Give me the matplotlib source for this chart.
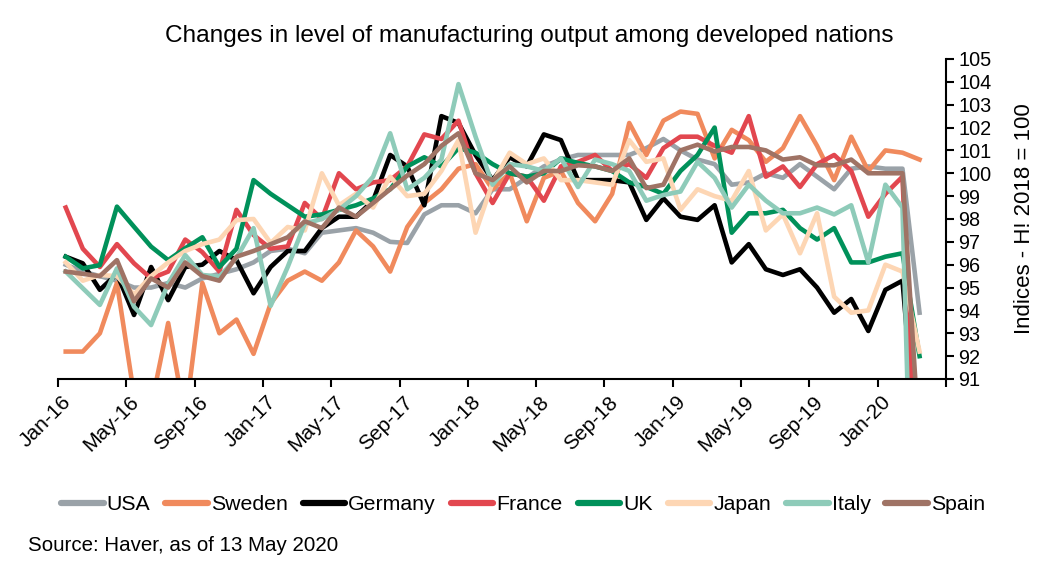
import numpy as np
import matplotlib
matplotlib.use("Agg")
import matplotlib.pyplot as plt
from matplotlib.transforms import ScaledTranslation

# monthly index values, Jan-16 .. Mar-20 (H1 2018 = 100)
usa = [96.0, 95.7, 95.5, 95.3, 95.0, 95.0, 95.2, 95.0, 95.4, 95.6,
       95.8, 96.1, 96.6, 96.7, 96.5, 97.4, 97.5, 97.6, 97.4, 97.0,
       96.95, 98.2, 98.6, 98.6, 98.25, 99.3, 99.3, 99.8, 100.3, 100.6,
       100.8, 100.8, 100.8, 100.8, 101.1, 101.5, 101.0, 100.6, 100.4, 99.5,
       99.6, 100.0, 99.8, 100.4, 99.85, 99.3, 100.2, 100.3, 100.2, 100.2,
       93.9]
sweden = [92.2, 92.2, 93.0, 95.2, 90.3, 89.8, 93.45, 89.3, 95.2, 93.0,
          93.6, 92.1, 94.3, 95.3, 95.7, 95.3, 96.1, 97.5, 96.8, 95.7,
          97.65, 98.7, 99.3, 100.2, 100.4, 99.3, 100.0, 97.9, 99.8, 100.1,
          98.7, 97.9, 99.1, 102.2, 100.8, 102.3, 102.7, 102.6, 100.65, 101.9,
          101.45, 100.5, 101.1, 102.5, 101.2, 99.7, 101.6, 100.1, 101.0, 100.9,
          100.6]
germany = [96.35, 96.06, 94.9, 95.6, 93.8, 95.9, 94.45, 95.9, 96.0, 96.6,
           96.2, 94.75, 95.9, 96.6, 96.6, 97.6, 98.1, 98.1, 98.8, 100.8,
           100.3, 98.6, 102.5, 102.2, 100.8, 99.7, 100.7, 100.3, 101.7, 101.45,
           99.7, 99.7, 99.7, 99.6, 97.96, 98.9, 98.1, 97.96, 98.6, 96.1,
           96.9, 95.8, 95.55, 95.8, 95.0, 93.9, 94.5, 93.1, 94.9, 95.3,
           86.5]
france = [98.5, 96.7, 95.9, 96.9, 96.06, 95.4, 95.7, 97.1, 96.55, 95.7,
          98.4, 97.3, 96.7, 96.8, 98.7, 98.0, 100.0, 99.3, 99.6, 99.7,
          100.3, 101.7, 101.5, 102.3, 100.0, 98.7, 100.0, 99.85, 98.8, 100.3,
          100.5, 100.8, 100.1, 100.4, 99.8, 101.1, 101.6, 101.6, 101.2, 100.9,
          102.5, 99.85, 100.3, 99.4, 100.4, 100.8, 100.1, 98.1, 99.1, 99.85,
          82.5]
uk = [96.35, 95.84, 95.98, 98.54, 97.66, 96.79, 96.2, 96.72, 97.2, 95.9,
      96.7, 99.7, 99.1, 98.6, 98.1, 98.2, 98.4, 98.6, 98.9, 99.3,
      100.3, 100.7, 100.3, 101.1, 100.9, 100.4, 100.0, 99.85, 100.0, 100.65,
      100.45, 100.3, 100.1, 99.6, 99.4, 99.1, 100.1, 100.8, 102.0, 97.4,
      98.25, 98.25, 98.4, 97.6, 97.1, 97.6, 96.1, 96.1, 96.35, 96.5,
      92.0]
japan = [96.1, 95.3, 95.55, 95.5, 94.7, 95.5, 96.1, 96.6, 96.9, 97.1,
         97.95, 98.0, 96.95, 97.65, 97.5, 100.0, 98.6, 99.1, 98.5, 99.85,
         99.0, 99.1, 100.1, 101.45, 97.4, 99.6, 100.9, 100.4, 100.65, 99.7,
         99.7, 99.6, 99.5, 101.45, 100.5, 100.65, 98.4, 99.3, 99.0, 98.8,
         100.1, 97.5, 98.2, 96.5, 98.25, 94.6, 93.9, 94.0, 96.0, 95.7,
         92.2]
italy = [95.7, 94.97, 94.24, 95.84, 94.16, 93.36, 95.18, 96.42, 95.55, 95.48,
         96.3, 97.6, 94.2, 95.9, 97.8, 98.0, 98.4, 99.0, 99.85, 101.75,
         99.3, 99.8, 100.6, 103.9, 101.6, 99.5, 100.4, 100.3, 100.1, 100.65,
         99.4, 100.6, 100.4, 100.1, 98.8, 99.05, 99.2, 100.5, 99.8, 98.5,
         99.5, 98.8, 98.25, 98.25, 98.5, 98.2, 98.6, 96.1, 99.5, 98.5,
         72.0]
spain = [95.7, 95.6, 95.5, 96.2, 94.4, 95.4, 95.0, 96.1, 95.5, 95.3,
         96.35, 96.6, 96.9, 97.2, 97.9, 97.6, 98.5, 98.1, 98.7, 99.3,
         99.9, 100.4, 101.2, 101.75, 100.0, 99.7, 100.3, 99.6, 100.1, 100.1,
         100.35, 100.3, 100.1, 100.65, 99.35, 99.5, 101.0, 101.25, 100.95, 101.15,
         101.15, 101.0, 100.6, 100.7, 100.35, 100.35, 100.6, 100.0, 100.0, 100.0,
         88.0]

names = ["USA", "Sweden", "Germany", "France", "UK", "Japan", "Italy", "Spain"]
colors = ["#9aa2a8", "#f08a5d", "#000000", "#e2474f", "#00915a",
          "#fdd6b4", "#8ecbb9", "#9f7365"]
tick_labels = ["Jan-16", "May-16", "Sep-16", "Jan-17", "May-17", "Sep-17",
               "Jan-18", "May-18", "Sep-18", "Jan-19", "May-19", "Sep-19",
               "Jan-20", ""]

plt.rcParams["font.family"] = ["Liberation Sans", "DejaVu Sans"]

fig = plt.figure(figsize=(10.59, 5.66), dpi=100)
ax = fig.add_axes([0.0548, 0.3304, 0.8385, 0.5654])

series = [usa, sweden, germany, france, uk, japan, italy, spain]
x = np.arange(len(usa)) + 0.45  # mid-month positions
for name, vals, c in zip(names, series, colors):
    ax.plot(x, vals, color=c, lw=3.3, label=name)

ax.set_xlim(0, 52)
ax.set_ylim(91, 105)
ax.set_yticks(np.arange(91, 106, 1))
ax.yaxis.tick_right()
ax.yaxis.set_label_position("right")
ax.tick_params(axis="y", labelsize=14.3, length=6, width=1.5, pad=3)
ax.tick_params(axis="x", length=6, width=1.5, pad=8.6)
ax.set_xticks(np.arange(0, 53, 4))
ax.set_xticklabels(tick_labels, rotation=45, ha="right", va="center",
                   rotation_mode="anchor", fontsize=15)
# excel puts the end of the rotated label a bit right of the tick
shift = ScaledTranslation(10 / 100, 0, fig.dpi_scale_trans)
for tick in ax.xaxis.get_major_ticks():
    tick.label1.set_transform(tick.label1.get_transform() + shift)
for s in ["left", "top"]:
    ax.spines[s].set_visible(False)
for s in ["bottom", "right"]:
    ax.spines[s].set_linewidth(1.5)
ax.set_ylabel("Indices - H! 2018 = 100", fontsize=16, labelpad=16)

fig.text(0.5, 0.936, "Changes in level of manufacturing output among developed nations",
         ha="center", va="center", fontsize=17.6)

leg = fig.legend(loc="center", bbox_to_anchor=(0.494, 0.108), ncol=8, frameon=False,
                 fontsize=15.3, handlelength=2.0, handletextpad=0.15, columnspacing=0.7)
for h in leg.get_lines():
    h.set_linewidth(4.5)
    h.set_solid_capstyle("round")
fig.text(0.026, 0.036, "Source: Haver, as of 13 May 2020", ha="left", va="center",
         fontsize=14.8)

fig.savefig("out.png", dpi=100)
